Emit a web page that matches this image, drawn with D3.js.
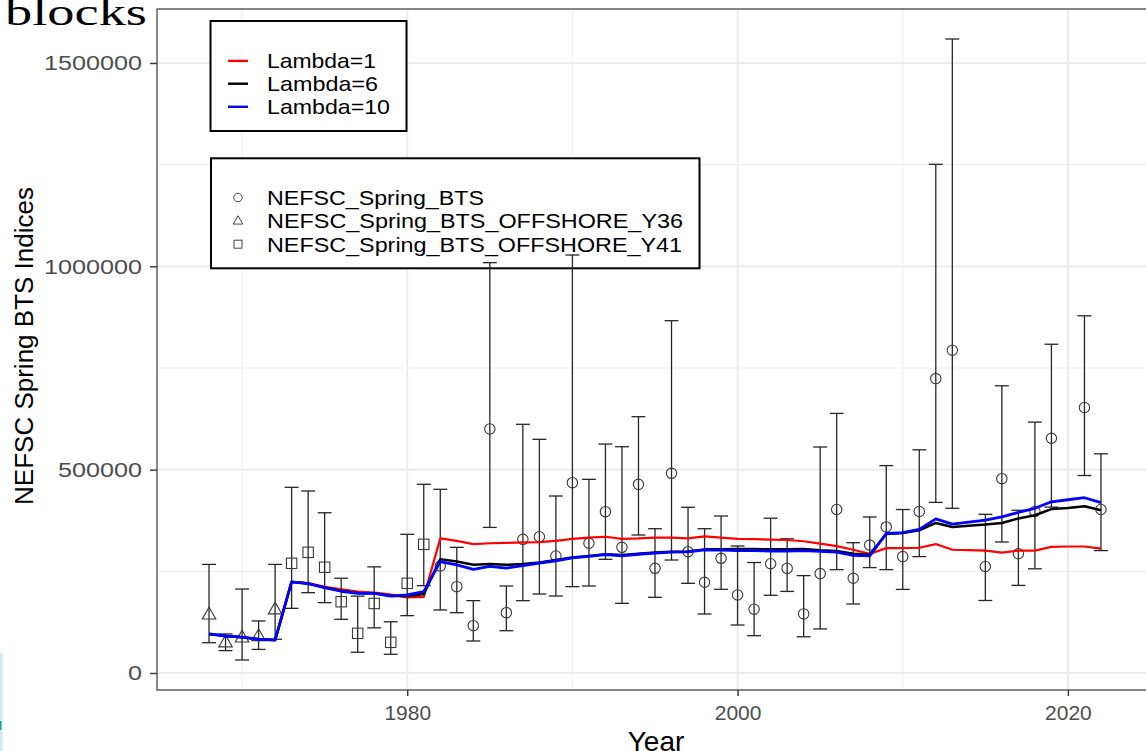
<!DOCTYPE html>
<html>
<head>
<meta charset="utf-8">
<script src="https://cdn.jsdelivr.net/npm/d3@7"></script>
<style>
  html, body { margin: 0; padding: 0; background: #fff; }
  svg { display: block; }
</style>
</head>
<body>
<svg id="chart" width="1146" height="751"></svg>
<script>
// ---------------- data ----------------
const lineYears = [1968,1969,1970,1971,1972,1973,1974,1975,1976,1977,1978,1979,1980,1981,
  1982,1983,1984,1985,1986,1987,1988,1989,1990,1991,1992,1993,1994,1995,1996,1997,1998,1999,
  2000,2001,2002,2003,2004,2005,2006,2007,2008,2009,2010,2011,2012,2013,2014,2015,2016,2017,
  2018,2019,2020,2021,2022];
const lambda1 = [96000,91000,88000,83000,81000,224000,221000,212000,206000,200000,198000,193000,186000,187000,
  331000,325000,317000,319000,320000,321000,322000,325000,330000,333000,335000,330000,331000,333000,333000,331000,336000,333000,
  330000,329000,328000,327000,324000,318000,312000,303000,293000,307000,307000,308000,317000,303000,302000,301000,296000,301000,
  301000,310000,311000,311000,306000];
const lambda6 = [96000,91000,88000,83000,81000,224000,220000,210000,202000,197000,196000,190000,189000,194000,
  280000,274000,266000,268000,266000,268000,272000,278000,284000,288000,292000,290000,293000,296000,298000,299000,304000,304000,
  305000,305000,304000,304000,305000,302000,300000,293000,291000,342000,344000,351000,369000,359000,362000,365000,369000,380000,
  388000,403000,406000,410000,400000];
const lambda10 = [96000,91000,88000,83000,81000,224000,220000,210000,201000,196000,196000,189000,192000,200000,
  274000,266000,255000,262000,258000,264000,270000,276000,283000,287000,291000,288000,292000,295000,297000,298000,303000,302000,
  301000,301000,300000,300000,301000,299000,297000,289000,288000,343000,345000,353000,379000,366000,371000,376000,384000,395000,
  405000,421000,426000,431000,419000];

const y36Years = [1968,1969,1970,1971,1972];
const y36Index = [142600,73800,86000,89300,155000];
const y36Lo    = [74500,55000,32000,58000,83000];
const y36Hi    = [267000,96000,206500,128000,267000];

const y41Years = [1973,1974,1975,1976,1977,1978,1979,1980,1981];
const y41Index = [269700,296700,260000,175300,97600,171000,75400,220500,316400];
const y41Lo    = [159000,197500,173000,132000,51000,111000,46000,141000,214700];
const y41Hi    = [456600,447500,394000,233000,189000,261000,126000,341000,464000];

const btsYears = [1982,1983,1984,1985,1986,1987,1988,1989,1990,1991,1992,1993,1994,1995,1996,1997,1998,1999,
  2000,2001,2002,2003,2004,2005,2006,2007,2008,2009,2010,2011,2012,2013,2015,2016,2017,2018,2019,2021,2022];
const btsIndex = [263000,212300,116400,600000,148300,328700,335000,287700,468000,318900,396700,309000,463900,257400,491000,298300,223000,282000,
  191800,156900,268700,257200,145300,244400,402000,232900,314500,359200,286200,397100,723900,793700,261900,477800,293100,397100,577100,652800,402000];
const btsLo = [155000,148300,78700,358000,104000,177800,194200,189300,212300,213900,279500,171300,339300,186100,277800,220500,145100,205800,
  118000,91700,191100,200600,89000,108400,254200,169700,259200,254200,205600,286200,419500,405000,178300,322100,215400,256200,407900,485600,301000];
const btsHi = [451700,309000,177900,1009000,213900,611500,574600,435200,1027800,476200,563000,556400,630200,354800,866300,407400,354800,386000,
  312300,271700,380600,330000,239500,555700,638300,320400,383600,510000,402000,548800,1250800,1558900,390200,706200,400100,616900,808400,878300,539000];

const xTicks = [1980, 2000, 2020];
const xMinor = [1970, 1990, 2010];
const yTicks = [0, 500000, 1000000, 1500000];
const yMinor = [250000, 750000, 1250000];

const lineSeries = ["Lambda=1", "Lambda=6", "Lambda=10"];
const lineColors = ["#ff0000", "#000000", "#0000ff"];
const pointSeries = ["NEFSC_Spring_BTS", "NEFSC_Spring_BTS_OFFSHORE_Y36", "NEFSC_Spring_BTS_OFFSHORE_Y41"];

// ---------------- layout ----------------
const FONT = "'Liberation Sans', Arial, Helvetica, sans-serif";
const svg = d3.select("#chart");
const P = { left: 157, right: 1153, top: 9, bottom: 690 };

const x = d3.scaleLinear().domain([1964.85, 2025.15]).range([P.left, P.right]);
const y = d3.scaleLinear().domain([-41800, 1632700]).range([P.bottom, P.top]);

svg.append("rect").attr("width", 1146).attr("height", 751).attr("fill", "#fff");

// slide artifacts
svg.append("text").attr("x", 5).attr("y", 25)
  .attr("font-family", "'Liberation Serif', 'DejaVu Serif', serif").attr("font-size", 37)
  .attr("textLength", 142).attr("lengthAdjust", "spacingAndGlyphs")
  .attr("fill", "#000").text("blocks");
svg.append("rect").attr("x", 0).attr("y", 653).attr("width", 2.5).attr("height", 98).attr("fill", "#cdeef0");
svg.append("rect").attr("x", 0).attr("y", 721).attr("width", 1.5).attr("height", 9).attr("fill", "#19a3ad");

// panel + clip
svg.append("clipPath").attr("id", "panel").append("rect")
  .attr("x", P.left).attr("y", P.top).attr("width", P.right - P.left).attr("height", P.bottom - P.top);
const panel = svg.append("g").attr("clip-path", "url(#panel)");

// gridlines
panel.selectAll(".gxm").data(xMinor).join("line")
  .attr("x1", d => x(d)).attr("x2", d => x(d)).attr("y1", P.top).attr("y2", P.bottom)
  .attr("stroke", "#f0f0f0").attr("stroke-width", 1.2);
panel.selectAll(".gym").data(yMinor).join("line")
  .attr("y1", d => y(d)).attr("y2", d => y(d)).attr("x1", P.left).attr("x2", P.right)
  .attr("stroke", "#f0f0f0").attr("stroke-width", 1.2);
panel.selectAll(".gx").data(xTicks).join("line")
  .attr("x1", d => x(d)).attr("x2", d => x(d)).attr("y1", P.top).attr("y2", P.bottom)
  .attr("stroke", "#ebebeb").attr("stroke-width", 2);
panel.selectAll(".gy").data(yTicks).join("line")
  .attr("y1", d => y(d)).attr("y2", d => y(d)).attr("x1", P.left).attr("x2", P.right)
  .attr("stroke", "#ebebeb").attr("stroke-width", 2);

// ---------------- legends (drawn under data, as in reference) ----------------
const leg = svg.append("g");
leg.append("rect").attr("x", 210.5).attr("y", 21).attr("width", 196).attr("height", 110)
  .attr("fill", "#fff").attr("stroke", "#000").attr("stroke-width", 2);
const leg1Base = [68.4, 91.2, 114.3];
const leg1Len = [109, 111, 123];
lineSeries.forEach((s, i) => {
  const cy = leg1Base[i] - 7.5;
  leg.append("line").attr("x1", 228).attr("x2", 248).attr("y1", cy).attr("y2", cy)
    .attr("stroke", lineColors[i]).attr("stroke-width", 2.4);
  leg.append("text").attr("x", 267).attr("y", leg1Base[i])
    .attr("font-family", FONT).attr("font-size", 21).attr("fill", "#000")
    .attr("textLength", leg1Len[i]).attr("lengthAdjust", "spacingAndGlyphs").text(s);
});

leg.append("rect").attr("x", 211).attr("y", 158.3).attr("width", 488.5).attr("height", 110)
  .attr("fill", "#fff").attr("stroke", "#000").attr("stroke-width", 2);
const leg2Base = [205, 228.3, 251.7];
const leg2Len = [217, 416, 415];
pointSeries.forEach((s, i) => {
  leg.append("text").attr("x", 267).attr("y", leg2Base[i])
    .attr("font-family", FONT).attr("font-size", 20).attr("fill", "#000")
    .attr("textLength", leg2Len[i]).attr("lengthAdjust", "spacingAndGlyphs").text(s);
});
const lsx = 238;
leg.append("circle").attr("cx", lsx).attr("cy", leg2Base[0] - 7.5).attr("r", 4.2)
  .attr("fill", "none").attr("stroke", "#444").attr("stroke-width", 1);
leg.append("path").attr("d", d3.symbol(d3.symbolTriangle, 40)())
  .attr("transform", `translate(${lsx},${leg2Base[1] - 7})`)
  .attr("fill", "none").attr("stroke", "#444").attr("stroke-width", 1);
leg.append("rect").attr("x", lsx - 4).attr("y", leg2Base[2] - 11.5).attr("width", 8).attr("height", 8)
  .attr("fill", "none").attr("stroke", "#444").attr("stroke-width", 1);

// ---------------- data layers ----------------
const data = svg.append("g").attr("clip-path", "url(#panel)");
const capHalf = 0.42; // years

function errorbars(yrs, lo, hi) {
  const rows = yrs.map((yr, i) => ({ yr, lo: lo[i], hi: hi[i] }));
  const g = data.append("g").attr("stroke", "#262626").attr("stroke-width", 1.3).attr("fill", "none");
  g.selectAll(".v").data(rows).join("line")
    .attr("x1", d => x(d.yr)).attr("x2", d => x(d.yr)).attr("y1", d => y(d.lo)).attr("y2", d => y(d.hi));
  g.selectAll(".t").data(rows).join("line")
    .attr("x1", d => x(d.yr - capHalf)).attr("x2", d => x(d.yr + capHalf)).attr("y1", d => y(d.hi)).attr("y2", d => y(d.hi));
  g.selectAll(".b").data(rows).join("line")
    .attr("x1", d => x(d.yr - capHalf)).attr("x2", d => x(d.yr + capHalf)).attr("y1", d => y(d.lo)).attr("y2", d => y(d.lo));
}
errorbars(y36Years, y36Lo, y36Hi);
errorbars(y41Years, y41Lo, y41Hi);
errorbars(btsYears, btsLo, btsHi);

// points
data.append("g").selectAll("circle").data(btsYears.map((yr, i) => ({ yr, v: btsIndex[i] }))).join("circle")
  .attr("cx", d => x(d.yr)).attr("cy", d => y(d.v)).attr("r", 5.2)
  .attr("fill", "none").attr("stroke", "#3a3a3a").attr("stroke-width", 1.1);
data.append("g").selectAll("path").data(y36Years.map((yr, i) => ({ yr, v: y36Index[i] }))).join("path")
  .attr("d", d3.symbol(d3.symbolTriangle, 80)())
  .attr("transform", d => `translate(${x(d.yr)},${y(d.v)})`)
  .attr("fill", "none").attr("stroke", "#3a3a3a").attr("stroke-width", 1.1);
data.append("g").selectAll("rect").data(y41Years.map((yr, i) => ({ yr, v: y41Index[i] }))).join("rect")
  .attr("x", d => x(d.yr) - 5.2).attr("y", d => y(d.v) - 5.2).attr("width", 10.4).attr("height", 10.4)
  .attr("fill", "none").attr("stroke", "#3a3a3a").attr("stroke-width", 1.1);

// model lines
const lineGen = d3.line().x(d => x(d.yr)).y(d => y(d.v));
const lineVals = [lambda1, lambda6, lambda10];
const lineWidths = [2.2, 2.5, 2.8];
lineVals.forEach((vals, k) => {
  data.append("path").datum(lineYears.map((yr, i) => ({ yr, v: vals[i] })))
    .attr("d", lineGen).attr("fill", "none")
    .attr("stroke", lineColors[k]).attr("stroke-width", lineWidths[k]).attr("stroke-linejoin", "round");
});

// panel border
svg.append("rect").attr("x", P.left).attr("y", P.top).attr("width", P.right - P.left).attr("height", P.bottom - P.top)
  .attr("fill", "none").attr("stroke", "#555").attr("stroke-width", 1.4);

// ---------------- axes ----------------
const yAxis = svg.append("g").attr("transform", `translate(${P.left},0)`)
  .call(d3.axisLeft(y).tickValues(yTicks).tickSize(7).tickPadding(12).tickFormat(d3.format("d")));
yAxis.select(".domain").remove();
yAxis.selectAll("line").attr("stroke", "#333").attr("stroke-width", 1.4);
yAxis.selectAll("text").attr("font-family", FONT).attr("font-size", 21).attr("fill", "#4d4d4d")
  .attr("transform", "scale(1.2,1)").attr("x", -12.5);

const xAxis = svg.append("g").attr("transform", `translate(0,${P.bottom})`)
  .call(d3.axisBottom(x).tickValues(xTicks).tickSize(6).tickPadding(9).tickFormat(d3.format("d")));
xAxis.select(".domain").remove();
xAxis.selectAll("line").attr("stroke", "#333").attr("stroke-width", 1.4);
xAxis.selectAll("text").attr("font-family", FONT).attr("font-size", 21).attr("fill", "#4d4d4d");

// axis titles
svg.append("text").attr("x", 656).attr("y", 750.5).attr("text-anchor", "middle")
  .attr("font-family", FONT).attr("font-size", 28).attr("fill", "#000").text("Year");
svg.append("text").attr("transform", "translate(33,346) rotate(-90)").attr("text-anchor", "middle")
  .attr("font-family", FONT).attr("font-size", 26).attr("fill", "#000").text("NEFSC Spring BTS Indices");
</script>
</body>
</html>
